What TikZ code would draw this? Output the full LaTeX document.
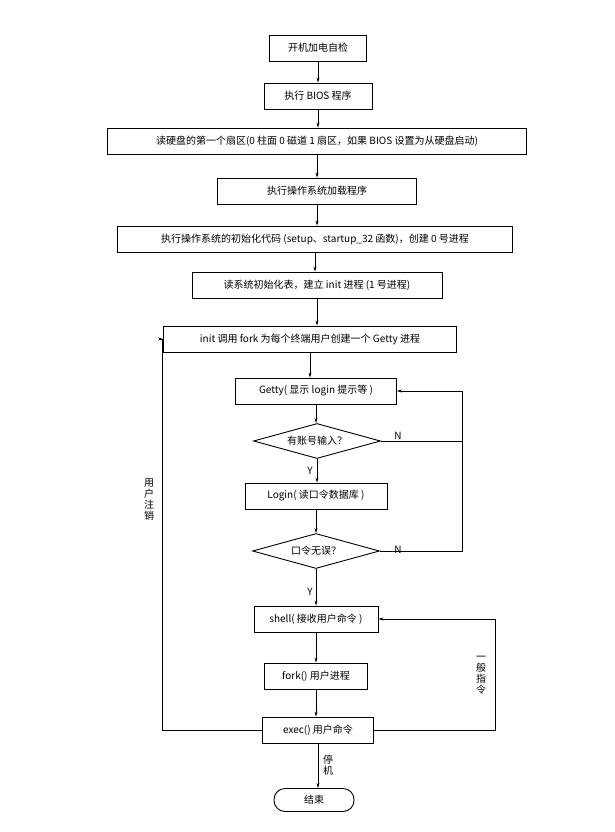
\documentclass[tikz,border=0pt]{standalone}
\usepackage{fontspec}
\setmainfont{Liberation Serif}
\newfontfamily\cjk{Noto Sans CJK SC}
\usetikzlibrary{shapes.geometric,arrows.meta}
\begin{document}
\begin{tikzpicture}[x=1pt,y=-1pt,font=\cjk\fontsize{10}{12}\selectfont,
  box/.style={draw,line width=0.9pt,minimum height=26pt,inner sep=2pt},
  dia/.style={draw,line width=0.9pt,diamond,aspect=3.6,inner sep=1pt,minimum width=127pt,minimum height=35pt},
  arr/.style={-{Stealth[length=5pt,width=3pt]},line width=0.6pt},
  lbl/.style={font=\cjk\fontsize{10}{11}\selectfont,align=center,inner sep=0pt}]
\useasboundingbox (0,0) rectangle (614,832);
\node[box,minimum width=97pt] (n1) at (318,48) {开机加电自检};
\node[box,minimum width=108pt] (n2) at (318,96) {执行 BIOS 程序};
\node[box,minimum width=419pt] (n3) at (317,141) {读硬盘的第一个扇区(0 柱面 0 磁道 1 扇区，如果 BIOS 设置为从硬盘启动)};
\node[box,minimum width=199pt] (n4) at (317,191) {执行操作系统加载程序};
\node[box,minimum width=395pt] (n5) at (315,239) {执行操作系统的初始化代码 (setup、startup\_32 函数)，创建 0 号进程};
\node[box,minimum width=250pt] (n6) at (317,285) {读系统初始化表，建立 init 进程 (1 号进程)};
\node[box,minimum width=293pt] (n7) at (310,339) {init 调用 fork 为每个终端用户创建一个 Getty 进程};
\node[box,minimum width=161pt] (n8) at (316,391) {Getty( 显示 login 提示等 )};
\node[dia] (d1) at (317,441) {有账号输入？};
\node[box,minimum width=142pt] (n10) at (316,496) {Login( 读口令数据库 )};
\node[dia] (d2) at (316,551) {口令无误？};
\node[box,minimum width=124pt] (n12) at (316,619) {shell( 接收用户命令 )};
\node[box,minimum width=103pt] (n13) at (316,676) {fork() 用户进程};
\node[box,minimum width=111pt] (n14) at (318,730) {exec() 用户命令};
\node[draw,line width=0.9pt,rounded corners=11pt,minimum width=80pt,minimum height=23pt] (n15) at (314,800) {结束};
\foreach \a/\b in {n1/n2,n2/n3,n3/n4,n4/n5,n5/n6,n6/n7,n7/n8,n8/d1,d1/n10,n10/d2,d2/n12,n12/n13,n13/n14,n14/n15}
  \draw[arr] (\a.south) -- (\a.south |- \b.north);
\coordinate (r1) at (462,441);
\draw[arr] (d1.east) -- (r1) |- (n8.east);
\draw[line width=0.6pt] (d2.east) -| (r1);
\draw[arr] (n14.east) -- (495,730) |- (n12.east);
\draw[arr] (n14.west) -- (162,730) |- (n7.west);
\node[lbl] (ln1) at (398,436) {N};
\node[lbl] (ln2) at (398,550) {N};
\node[lbl] (ly1) at (310,471) {Y};
\node[lbl] (ly2) at (310,592) {Y};
\node[lbl] (lstop) at (328,765) {停\\机};
\node[lbl] (lgen) at (481,675) {一\\般\\指\\令};
\node[lbl] (luser) at (149,500) {用\\户\\注\\销};
\end{tikzpicture}
\end{document}
